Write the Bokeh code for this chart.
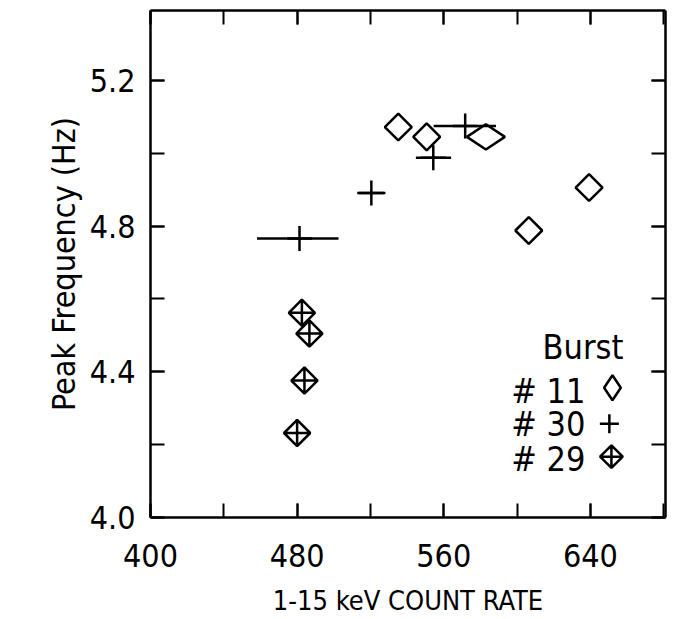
import math
from bokeh.plotting import figure
from bokeh.models import (LinearAxis, SingleIntervalTicker, PrintfTickFormatter,
                          Label, Range1d)
from bokeh.embed import file_html
from bokeh.resources import INLINE

# ---------------- data ----------------
burst11_rate = [535.2, 550.7, 583.0, 606.4, 639.3]
burst11_freq = [5.072, 5.045, 5.045, 4.788, 4.906]

burst30_rate = [481.3, 520.5, 554.3, 571.7]
burst30_freq = [4.766, 4.891, 4.988, 5.075]
burst30_rate_lo = [458.1, 512.8, 544.8, 554.5]
burst30_rate_hi = [502.6, 528.2, 564.0, 588.5]

burst29_rate = [482.6, 486.7, 484.0, 480.0]
burst29_freq = [4.562, 4.505, 4.376, 4.232]

legend_title = "Burst"
legend_labels = ["# 11", "# 30", "# 29"]

x_label = "1-15 keV COUNT RATE"
y_label = "Peak Frequency (Hz)"

# ---------------- styling ----------------
FONT = "Liberation Sans Narrow, DejaVu Sans Condensed, sans-serif"
LW = 2.5

# one burst-11 point is drawn as a flattened diamond in the reference
b11_marker = ["square"] * len(burst11_rate)
b11_angle = [math.pi / 4] * len(burst11_rate)
b11_size = [19] * len(burst11_rate)
b11_marker[2] = "diamond"
b11_angle[2] = math.pi / 2
b11_size[2] = 38

p = figure(width=691, height=619,
           x_range=Range1d(400, 681), y_range=Range1d(4.0, 5.392),
           output_backend="svg", toolbar_location=None,
           x_axis_location=None, y_axis_location=None,
           min_border_left=150, min_border_right=26,
           min_border_top=10, min_border_bottom=102)
p.xgrid.visible = False
p.ygrid.visible = False
p.outline_line_color = None
p.background_fill_color = "white"
p.border_fill_color = "white"
p.extra_x_ranges = {"key": Range1d(0, 1)}
p.extra_y_ranges = {"key": Range1d(0, 1)}


def style_axis(ax, labelled):
    ax.axis_line_width = LW
    ax.axis_line_color = "black"
    ax.major_tick_in = 14
    ax.major_tick_out = 0
    ax.minor_tick_in = 14
    ax.minor_tick_out = 0
    ax.major_tick_line_width = 2
    ax.minor_tick_line_width = 2
    ax.major_tick_line_color = "black"
    ax.minor_tick_line_color = "black"
    if labelled:
        ax.major_label_text_font = FONT
        ax.major_label_text_font_size = "32px"
        ax.major_label_text_color = "black"
        ax.axis_label_text_font = FONT
        ax.axis_label_text_font_style = "normal"
        ax.axis_label_text_color = "black"
    else:
        ax.major_label_text_font_size = "1px"
        ax.major_label_text_color = None
        ax.major_label_standoff = 0


xb = LinearAxis(ticker=SingleIntervalTicker(interval=80, num_minor_ticks=2),
                axis_label=x_label)
style_axis(xb, True)
xb.major_label_standoff = 26
xb.axis_label_standoff = 15
xb.axis_label_text_font_size = "27px"
p.add_layout(xb, "below")

xt = LinearAxis(ticker=SingleIntervalTicker(interval=80, num_minor_ticks=2))
style_axis(xt, False)
p.add_layout(xt, "above")

yl = LinearAxis(ticker=SingleIntervalTicker(interval=0.4, num_minor_ticks=2),
                formatter=PrintfTickFormatter(format="%.1f"),
                axis_label=y_label)
style_axis(yl, True)
yl.major_label_standoff = 15
yl.axis_label_standoff = 4
yl.axis_label_text_font_size = "32px"
p.add_layout(yl, "left")

yr = LinearAxis(ticker=SingleIntervalTicker(interval=0.4, num_minor_ticks=2))
style_axis(yr, False)
p.add_layout(yr, "right")

# ---------------- marks ----------------
p.segment(x0=burst30_rate_lo, y0=burst30_freq, x1=burst30_rate_hi, y1=burst30_freq,
          line_color="black", line_width=LW)
p.scatter(x=burst30_rate, y=burst30_freq, marker="cross", size=25,
          line_color="black", line_width=LW)

p.scatter(x=burst11_rate, y=burst11_freq, marker=b11_marker, angle=b11_angle,
          size=b11_size, line_color="black", line_width=LW, fill_color=None)

p.scatter(x=burst29_rate, y=burst29_freq, marker="square_x", angle=math.pi / 4,
          size=18.5, line_color="black", line_width=LW, fill_color=None)

# ---------------- hand-drawn style key (frame-fraction coordinates) ----------------
key_x = [0.897, 0.891, 0.895]
key_y = [0.256, 0.185, 0.120]
p.scatter(x=key_x[0:1], y=key_y[0:1], x_range_name="key", y_range_name="key",
          marker="diamond", size=25, line_color="black", line_width=LW, fill_color=None)
p.scatter(x=key_x[1:2], y=key_y[1:2], x_range_name="key", y_range_name="key",
          marker="cross", size=19, line_color="black", line_width=LW)
p.scatter(x=key_x[2:3], y=key_y[2:3], x_range_name="key", y_range_name="key",
          marker="square_x", angle=math.pi / 4, size=16, line_color="black",
          line_width=LW, fill_color=None)

p.add_layout(Label(x=392, y=171, x_units="screen", y_units="screen", text=legend_title,
                   text_font=FONT, text_font_size="34px", text_color="black",
                   text_baseline="alphabetic", text_align="left"))
label_y = [127, 94, 59]
for txt, ly in zip(legend_labels, label_y):
    p.add_layout(Label(x=435, y=ly, x_units="screen", y_units="screen", text=txt,
                       text_font=FONT, text_font_size="34px", text_color="black",
                       text_baseline="alphabetic", text_align="right"))

open("out.html", "w").write(file_html(p, INLINE))
